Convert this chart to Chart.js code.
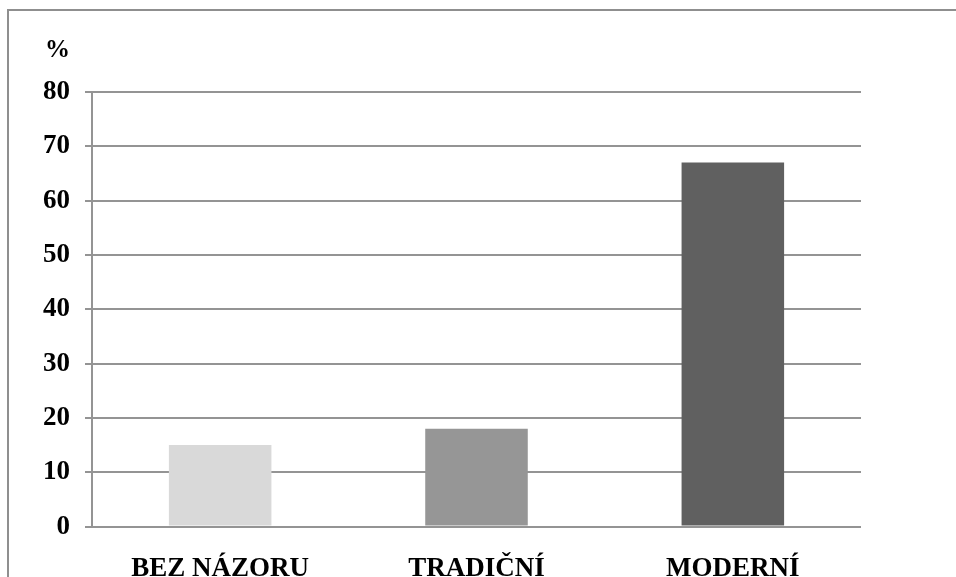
<!DOCTYPE html>
<html>
<head>
<meta charset="utf-8">
<script src="https://cdn.jsdelivr.net/npm/chart.js@4"></script>
<style>
  html, body { margin: 0; padding: 0; background: #fff; overflow: hidden; }
  #frame { position: absolute; left: 7px; top: 9px; width: 1000px; height: 620px;
           border-left: 2px solid #8f8f8f; border-top: 2px solid #8f8f8f; }
  #wrap { position: absolute; left: 0; top: 0; width: 956px; height: 603px; }
</style>
</head>
<body>
<div id="frame"></div>
<div id="wrap"><canvas id="myChart"></canvas></div>
<script>
var categories = ['BEZ NÁZORU', 'TRADIČNÍ', 'MODERNÍ'];
var values = [15, 18, 67];
var barColors = ['#d9d9d9', '#969696', '#606060'];
var yUnit = '%';

// draws the "%" unit above the y labels
var unitLabel = {
  id: 'unitLabel',
  afterDraw: function(chart) {
    var y = chart.scales.y;
    var ctx = chart.ctx;
    ctx.save();
    ctx.font = 'bold 25px "Liberation Serif"';
    ctx.fillStyle = '#000';
    ctx.textAlign = 'right';
    ctx.textBaseline = 'middle';
    ctx.fillText(yUnit, y.right - 7 - 15, 51);
    ctx.restore();
  }
};

var ctx = document.getElementById('myChart').getContext('2d');
var myChart = new Chart(ctx, {
  type: 'bar',
  data: {
    labels: categories,
    datasets: [{
      data: values,
      backgroundColor: barColors,
      borderWidth: 0,
      barPercentage: 0.4,
      categoryPercentage: 1
    }]
  },
  options: {
    responsive: true,
    maintainAspectRatio: false,
    animation: false,
    layout: { padding: { left: 28, right: 95, top: 92, bottom: 0 } },
    plugins: { legend: { display: false }, tooltip: { enabled: false } },
    scales: {
      x: {
        grid: { display: false },
        border: { display: false },
        ticks: { color: '#000', padding: 18, font: { family: 'Liberation Serif', size: 27, weight: 'bold' } }
      },
      y: {
        min: 0,
        max: 80,
        ticks: { stepSize: 10, color: '#000', padding: 15, font: { family: 'Liberation Serif', size: 27, weight: 'bold' } },
        grid: { color: '#949494', lineWidth: 2, tickLength: 7 },
        border: { display: true, color: '#949494', width: 2 }
      }
    }
  },
  plugins: [unitLabel]
});
</script>
</body>
</html>
